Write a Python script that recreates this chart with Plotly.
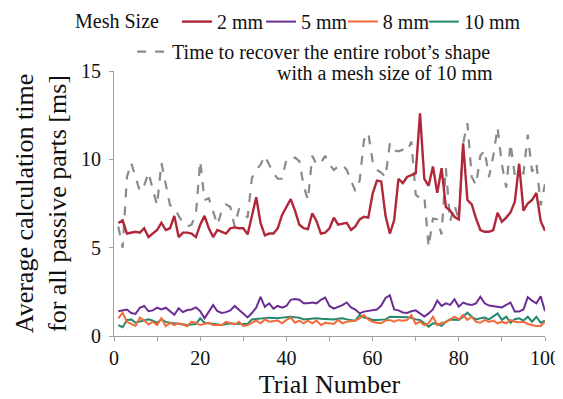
import plotly.graph_objects as go

trial = list(range(1, 101))

mesh_2mm = [6.4, 6.55, 5.8, 5.85, 5.9, 5.85, 6.1, 5.6, 5.8, 6.0,
            6.4, 6.0, 6.1, 6.8, 5.6, 5.85, 5.85, 5.8, 5.6, 6.3,
            6.8, 6.1, 5.6, 6.0, 5.9, 5.8, 6.1, 6.15, 6.1, 6.1,
            5.75, 6.9, 7.85, 6.4, 5.7, 5.8, 5.8, 6.1, 6.85, 7.3,
            7.75, 7.1, 6.3, 6.1, 6.05, 6.95, 6.5, 5.8, 5.85, 6.1,
            6.7, 6.3, 6.35, 6.4, 6.0, 6.2, 6.6, 6.75, 6.7, 8.05,
            8.8, 8.75, 6.8, 5.8, 6.55, 8.9, 8.65, 9.0, 9.1, 9.2,
            12.6, 8.9, 8.5, 9.6, 8.1, 9.5, 7.3, 7.1, 6.75, 6.6,
            10.9, 7.7, 7.45, 6.65, 6.0, 5.9, 5.9, 6.0, 6.98, 6.47,
            6.7, 7.0, 7.6, 9.75, 7.1, 7.5, 7.7, 8.1, 6.5, 5.95]

mesh_5mm = [1.4, 1.45, 1.5, 1.3, 1.25, 1.6, 1.7, 1.4, 1.45, 1.6,
            1.5, 1.6, 1.4, 1.2, 1.57, 1.35, 1.47, 1.5, 1.62, 1.4,
            1.0, 1.4, 1.75, 1.4, 1.3, 1.35, 1.45, 1.7, 1.5, 1.3,
            1.05, 1.3, 1.6, 2.22, 1.65, 1.85, 1.55, 1.7, 1.6, 1.7,
            2.05, 2.1, 2.05, 1.85, 1.85, 1.9, 1.85, 2.05, 2.17, 1.7,
            1.55, 1.65, 1.75, 1.9, 1.62, 1.5, 1.28, 1.38, 1.42, 1.47,
            1.5, 1.72, 2.15, 2.3, 1.5, 1.45, 1.33, 1.3, 1.4, 1.45,
            1.25, 1.1, 1.28, 1.5, 2.0, 1.7, 1.85, 1.76, 2.08, 1.66,
            1.89, 1.8, 1.76, 1.85, 2.22, 1.85, 1.72, 1.68, 1.66, 1.62,
            1.76, 1.89, 1.38, 1.38, 1.5, 2.2, 2.0, 1.85, 2.25, 1.4]

mesh_8mm = [1.0, 1.32, 0.8, 0.7, 0.57, 1.04, 0.89, 0.65, 0.81, 0.62,
            1.0, 0.55, 0.75, 0.62, 0.72, 0.65, 0.55, 0.8, 0.75, 0.62,
            0.7, 0.75, 0.62, 0.62, 0.62, 0.8, 0.72, 0.65, 0.81, 0.57,
            0.62, 0.75, 0.87, 0.72, 0.94, 0.81, 0.85, 0.87, 0.72, 0.91,
            1.04, 0.75, 0.87, 0.72, 0.87, 0.72, 0.87, 0.62, 0.75, 0.7,
            0.68, 0.91, 0.72, 0.81, 0.85, 0.87, 1.0, 1.19, 0.94, 0.81,
            0.75, 0.72, 0.87, 0.91, 0.81, 0.91, 0.87, 0.9, 1.19, 0.68,
            0.81, 0.62, 0.72, 1.09, 0.62, 0.75, 0.78, 0.94, 1.09, 0.94,
            1.19, 0.91, 1.09, 0.8, 0.75, 0.91, 0.8, 0.87, 0.72, 0.81,
            0.72, 0.91, 0.8, 0.78, 0.81, 0.68, 0.62, 0.57, 0.57, 0.81]

mesh_10mm = [0.62, 0.5, 0.9, 0.94, 0.75, 0.8, 0.85, 0.94, 0.87, 0.75,
             0.94, 0.8, 0.75, 0.72, 0.7, 0.68, 0.62, 0.65, 0.68, 1.0,
             0.75, 0.72, 0.68, 0.65, 0.62, 0.68, 0.72, 0.7, 0.7, 0.68,
             0.68, 0.94, 0.97, 1.0, 1.02, 1.04, 1.02, 1.0, 1.04, 1.06,
             1.09, 1.06, 1.04, 0.94, 0.97, 1.0, 1.0, 0.97, 0.95, 0.94,
             0.94, 0.97, 1.0, 0.94, 0.9, 0.87, 1.19, 1.05, 1.0, 0.91,
             0.91, 0.92, 0.94, 1.09, 1.09, 1.09, 1.09, 1.06, 1.04, 0.94,
             0.91, 0.7, 0.53, 0.72, 0.68, 0.57, 0.81, 0.94, 0.92, 0.91,
             1.09, 1.32, 1.09, 0.94, 1.0, 1.04, 0.94, 1.1, 1.28, 0.91,
             1.09, 0.75, 0.95, 1.0, 0.87, 1.09, 0.81, 1.09, 0.75, 0.87]

entire_10mm = [6.2, 5.0, 9.0, 9.8, 9.0, 8.2, 8.5, 9.25, 8.3, 7.4,
               9.8, 8.6, 7.4, 7.3, 6.8, 6.4, 6.2, 6.3, 6.9, 9.9,
               7.7, 7.8, 7.0, 6.3, 7.1, 7.45, 7.3, 6.2, 7.2, 6.95,
               6.7, 8.95, 9.4, 9.7, 10.2, 9.7, 9.2, 8.9, 8.9, 10.0,
               10.0, 10.1, 9.9, 8.5, 7.7, 10.2, 9.7, 9.8, 10.2, 9.7,
               9.4, 9.6, 9.7, 9.4, 8.8, 8.2, 8.8, 11.1, 11.5, 9.9,
               9.4, 9.25, 9.0, 10.9, 10.5, 10.45, 10.55, 10.45, 11.0, 8.0,
               7.8, 7.9, 5.05, 6.65, 6.6, 5.75, 9.5, 6.5, 7.4, 6.6,
               10.9, 12.05, 9.0, 8.55, 10.2, 10.5, 9.0, 10.2, 11.8, 9.7,
               8.4, 10.9, 9.1, 9.3, 9.2, 11.4, 9.3, 9.8, 7.4, 8.6]

mesh_names = ["2 mm", "5 mm", "8 mm", "10 mm"]
mesh_colors = ["#B0273A", "#6B2D92", "#F26B3A", "#23876E"]
mesh_series = [mesh_2mm, mesh_5mm, mesh_8mm, mesh_10mm]
mesh_legends = ["legend", "legend4", "legend5", "legend3"]

FONT = "Liberation Serif, Times New Roman, serif"

fig = go.Figure()

fig.add_trace(go.Scatter(
    x=trial, y=entire_10mm, mode="lines",
    name="Time to recover the entire robot\u2019s shape",
    line=dict(color="#8A8A8A", width=2.2, dash="dash"),
    legend="legend2", showlegend=True,
))

for k in [3, 2, 1, 0]:
    fig.add_trace(go.Scatter(
        x=trial, y=mesh_series[k], mode="lines", name=mesh_names[k],
        line=dict(color=mesh_colors[k], width=2.4 if k == 0 else 2.0),
        legend=mesh_legends[k], showlegend=True,
    ))

axis_common = dict(
    showline=True, linecolor="#A0A0A0", linewidth=1,
    ticks="outside", tickcolor="#A0A0A0", ticklen=4,
    showgrid=False, zeroline=False, ticklabeloverflow="allow",
    tickfont=dict(family=FONT, size=20, color="#111"),
)

row_legend = dict(orientation="h", xanchor="left", y=1.26, yanchor="top",
                  font=dict(family=FONT, size=20), itemwidth=30,
                  bgcolor="rgba(0,0,0,0)")

fig.update_layout(
    showlegend=True,
    width=555, height=391,
    margin=dict(l=106, r=18, t=63, b=63, autoexpand=False),
    paper_bgcolor="white", plot_bgcolor="white",
    font=dict(family=FONT, size=20, color="#111"),
    xaxis=dict(range=[0, 100], dtick=20, tick0=0,
               minor=dict(dtick=10, ticks="outside", ticklen=4, tickcolor="#A0A0A0"),
               title=dict(text="Trial Number", font=dict(family=FONT, size=26), standoff=13),
               **axis_common),
    yaxis=dict(range=[0, 15], dtick=5, tick0=0, ticklabelstandoff=4,
               title=dict(text="Average calculation time<br>for all passive parts [ms]",
                          font=dict(family=FONT, size=26), standoff=6),
               **axis_common),
    legend=dict(x=-0.095, visible=True,
                title=dict(text="Mesh Size\u00a0\u00a0", side="left", font=dict(family=FONT, size=20)),
                **row_legend),
    legend4=dict(x=0.341, **row_legend),
    legend5=dict(x=0.531, **row_legend),
    legend3=dict(x=0.719, **row_legend),
    legend2=dict(orientation="h", x=0.042, xanchor="left", y=1.147, yanchor="top",
                 font=dict(family=FONT, size=20), itemwidth=30, bgcolor="rgba(0,0,0,0)"),
    annotations=[dict(text="with a mesh size of 10 mm", xref="paper", yref="paper",
                      x=0.885, y=0.992, xanchor="right", yanchor="middle",
                      showarrow=False, font=dict(family=FONT, size=20, color="#111"))],
)

fig.write_html("out.html")
